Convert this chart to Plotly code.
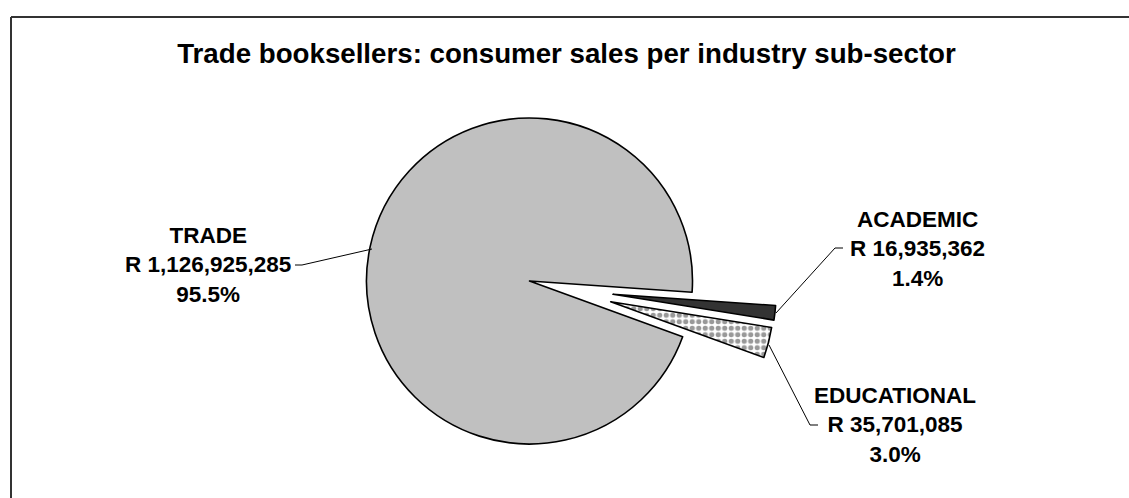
import plotly.graph_objects as go

# ---- data ----
categories = ["TRADE", "ACADEMIC", "EDUCATIONAL"]
sales_rand = [1126925285, 16935362, 35701085]
title_text = "Trade booksellers: consumer sales per industry sub-sector"

# ---- layout constants ----
W, H = 1129, 498
FONT = "Arial, 'Liberation Sans', sans-serif"
R_PX = 163
ROT = 110
# pixel centres of the main pie and the two exploded wedges
centres = [(529.5, 281.0), (613.0, 294.3), (610.7, 301.7)]

TRANSP = "rgba(0,0,0,0)"
fills = ["#C0C0C0", "#333333", "white"]


def px_x(x):
    return x / W


def px_y(y):
    return 1 - y / H


def domain_for(cx, cy):
    return dict(x=[px_x(cx - R_PX), px_x(cx + R_PX)],
                y=[px_y(cy + R_PX), px_y(cy - R_PX)])


fig = go.Figure()
for i, (cx, cy) in enumerate(centres):
    colors = [fills[j] if j == i else TRANSP for j in range(len(categories))]
    lw = [1.6 if j == i else 0 for j in range(len(categories))]
    marker = dict(colors=colors, line=dict(color="black", width=lw))
    if categories[i] == "EDUCATIONAL":
        marker["pattern"] = dict(
            shape=["." if j == i else "" for j in range(len(categories))],
            fgcolor="#999999", bgcolor="white", size=6.5, solidity=0.5)
    fig.add_trace(go.Pie(
        labels=categories, values=sales_rand, sort=False,
        direction="clockwise", rotation=ROT, textinfo="none",
        hoverinfo="skip", showlegend=False, marker=marker,
        domain=domain_for(cx, cy),
    ))

total = sum(sales_rand)
label_pos = {"TRADE": (208, 265), "ACADEMIC": (917, 249), "EDUCATIONAL": (895, 425)}
annotations = []
for cat, val in zip(categories, sales_rand):
    x, y = label_pos[cat]
    txt = f"<b>{cat}<br>R {val:,}<br>{val / total * 100:.1f}%</b>"
    annotations.append(dict(
        x=px_x(x), y=px_y(y), xref="paper", yref="paper", text=txt,
        showarrow=False, xanchor="center", yanchor="middle", align="center",
        font=dict(family=FONT, size=22.5, color="black")))

# leader lines (pixel paths)
leaders = [
    [(295, 265), (302, 265), (372, 249)],
    [(843, 248), (835, 248), (776, 313)],
    [(769, 345), (810, 425), (818, 425)],
]
shapes = []
for pts in leaders:
    path = "M " + " L ".join(f"{px_x(x)},{px_y(y)}" for x, y in pts)
    shapes.append(dict(type="path", xref="paper", yref="paper", path=path,
                       line=dict(color="black", width=1)))

# chart-area border (top and left visible)
shapes.append(dict(type="line", xref="paper", yref="paper",
                   x0=px_x(11), y0=px_y(17), x1=1.05, y1=px_y(17),
                   line=dict(color="#333333", width=2)))
shapes.append(dict(type="line", xref="paper", yref="paper",
                   x0=px_x(11), y0=px_y(17), x1=px_x(11), y1=-0.05,
                   line=dict(color="#333333", width=2)))

fig.update_layout(
    width=W, height=H, autosize=False,
    margin=dict(l=0, r=0, t=0, b=0),
    paper_bgcolor="white", plot_bgcolor="white",
    title=dict(text=f"<b>{title_text}</b>", x=566.5 / W, y=1 - 53 / H,
               xref="container", yref="container",
               xanchor="center", yanchor="middle",
               font=dict(family=FONT, size=27.7, color="black")),
    annotations=annotations, shapes=shapes,
)

fig.write_html("out.html")
